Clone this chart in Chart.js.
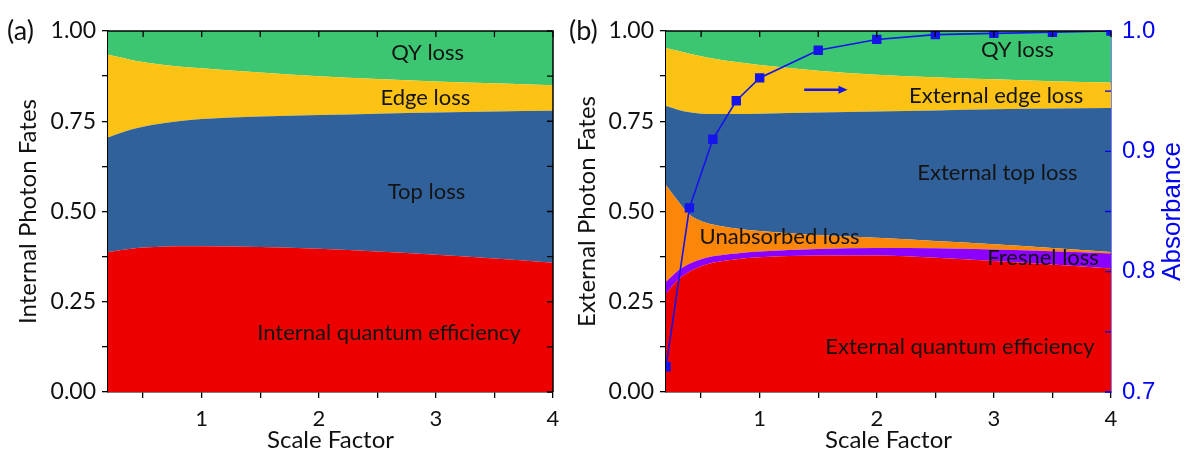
<!DOCTYPE html>
<html>
<head>
<meta charset="utf-8">
<script src="https://cdn.jsdelivr.net/npm/chart.js@4.4.1/dist/chart.umd.min.js"></script>
<style>
  html, body { margin: 0; padding: 0; background: #fff; }
  #wrap { position: relative; width: 1184px; height: 455px; overflow: hidden; }
  canvas { position: absolute; top: 0; }
</style>
</head>
<body>
<div id="wrap">
  <canvas id="chartA" width="580" height="455" style="left:0"></canvas>
  <canvas id="chartB" width="629" height="455" style="left:555px"></canvas>
</div>
<script>
// scale factor samples used for the photon fate areas
const scaleFactor = [0.2, 0.3, 0.4, 0.5, 0.6, 0.8, 1.0, 1.5, 2.0, 2.5, 3.0, 3.5, 4.0];

// (a) internal photon fates
const internalQE   = [0.388, 0.393, 0.397, 0.400, 0.402, 0.404, 0.404, 0.402, 0.397, 0.389, 0.380, 0.370, 0.358];
const topLoss      = [0.317, 0.324, 0.330, 0.335, 0.339, 0.346, 0.352, 0.361, 0.370, 0.382, 0.394, 0.407, 0.421];
const edgeLoss     = [0.230, 0.210, 0.193, 0.179, 0.168, 0.152, 0.141, 0.122, 0.108, 0.096, 0.086, 0.078, 0.071];
const qyLossA      = [0.065, 0.073, 0.080, 0.086, 0.091, 0.098, 0.103, 0.115, 0.125, 0.133, 0.140, 0.145, 0.150];

// (b) external photon fates
const externalQE   = [0.272, 0.310, 0.333, 0.348, 0.358, 0.368, 0.373, 0.378, 0.378, 0.372, 0.363, 0.353, 0.342];
const fresnelLoss  = [0.033, 0.025, 0.022, 0.020, 0.018, 0.016, 0.016, 0.018, 0.021, 0.026, 0.032, 0.037, 0.042];
const unabsorbed   = [0.268, 0.195, 0.137, 0.106, 0.088, 0.069, 0.057, 0.039, 0.028, 0.020, 0.014, 0.009, 0.004];
const extTopLoss   = [0.219, 0.252, 0.283, 0.297, 0.306, 0.317, 0.325, 0.339, 0.350, 0.362, 0.374, 0.386, 0.399];
const extEdgeLoss  = [0.161, 0.163, 0.162, 0.159, 0.154, 0.144, 0.135, 0.116, 0.102, 0.092, 0.083, 0.076, 0.070];
const qyLossB      = [0.047, 0.055, 0.063, 0.070, 0.076, 0.086, 0.094, 0.110, 0.121, 0.128, 0.134, 0.139, 0.143];

// (b) absorbance, right axis
const absScale     = [0.2, 0.4, 0.6, 0.8, 1.0, 1.5, 2.0, 2.5, 3.0, 3.5, 4.0];
const absorbance   = [0.721, 0.853, 0.910, 0.942, 0.961, 0.984, 0.993, 0.997, 0.998, 0.999, 1.000];

// ticks
const xTicks     = [0.5, 1, 1.5, 2, 2.5, 3, 3.5, 4];
const xLabels    = ['', '1', '', '2', '', '3', '', '4'];
const fateTicks  = [0, 0.125, 0.25, 0.375, 0.5, 0.625, 0.75, 0.875, 1];
const fateLabels = ['0.00', '', '0.25', '', '0.50', '', '0.75', '', '1.00'];
const absTicks   = [0.7, 0.75, 0.8, 0.85, 0.9, 0.95, 1.0];
const absLabels  = ['0.7', '', '0.8', '', '0.9', '', '1.0'];

const C = {
  green: 'rgb(61,198,113)', yellow: 'rgb(253,195,20)', blue: 'rgb(49,97,154)',
  red: 'rgb(236,0,0)', orange: 'rgb(252,134,8)', purple: 'rgb(140,0,255)',
  line: 'rgb(20,20,235)', axisBlue: 'rgb(0,0,240)'
};
const FONT = 'Lato, "Open Sans", sans-serif';
const tickFont = { family: FONT, size: 23 };
const titleFont = { family: FONT, size: 24 };

function area(label, values, color, fill) {
  return {
    label, data: scaleFactor.map((x, i) => ({ x, y: values[i] })),
    backgroundColor: color, borderColor: color, borderWidth: 0,
    pointRadius: 0, fill, cubicInterpolationMode: 'monotone', order: 2
  };
}

function xScale() {
  return {
    type: 'linear', min: 0.2, max: 4,
    afterBuildTicks: s => { s.ticks = xTicks.map(value => ({ value })); },
    ticks: { autoSkip: false, maxRotation: 0, color: '#111', font: { family: FONT, size: 22 }, padding: 8,
             callback: (v, i) => xLabels[i] },
    grid: { drawOnChartArea: false, tickLength: 6, color: '#000', lineWidth: 1.3 },
    border: { color: '#000', width: 1.5 },
    title: { display: true, text: 'Scale Factor', color: '#111', font: titleFont, padding: { top: 0, bottom: 0 } },
    afterFit: s => { s.height = 63; }
  };
}

function yScale(title, width, titlePad) {
  return {
    stacked: true, min: 0, max: 1,
    afterBuildTicks: s => { s.ticks = fateTicks.map(value => ({ value })); },
    ticks: { autoSkip: false, color: '#111', font: tickFont, padding: 6,
             callback: (v, i) => fateLabels[i] },
    grid: { drawOnChartArea: false, tickLength: 6, color: '#000', lineWidth: 1.3 },
    border: { color: '#000', width: 1.5 },
    title: { display: true, text: title, color: '#111', font: titleFont, padding: { top: titlePad, bottom: 0 } },
    afterFit: s => { s.width = width; }
  };
}

function decor(cfg) {
  return {
    id: 'decor' + cfg.letter,
    afterDatasetsDraw(chart) {
      const { ctx, scales: { x, y } } = chart;
      ctx.save();
      ctx.fillStyle = '#141414';
      ctx.font = '22px ' + FONT;
      ctx.textAlign = 'center';
      ctx.textBaseline = 'middle';
      cfg.labels.forEach(l => ctx.fillText(l.text, x.getPixelForValue(l.x), y.getPixelForValue(l.y)));
      if (cfg.arrow) {
        const a = cfg.arrow;
        const x1 = x.getPixelForValue(a.from), x2 = x.getPixelForValue(a.to), py = y.getPixelForValue(a.y);
        ctx.strokeStyle = C.line; ctx.fillStyle = C.line; ctx.lineWidth = 2.5;
        ctx.beginPath(); ctx.moveTo(x1, py); ctx.lineTo(x2 - 6, py); ctx.stroke();
        ctx.beginPath(); ctx.moveTo(x2, py); ctx.lineTo(x2 - 9, py - 4); ctx.lineTo(x2 - 9, py + 4); ctx.closePath(); ctx.fill();
      }
      ctx.restore();
    },
    afterDraw(chart) {
      const { ctx, chartArea: a, scales: { x, y, y2 } } = chart;
      ctx.save();
      ctx.strokeStyle = '#000';
      ctx.lineWidth = 1.3;
      ctx.beginPath();
      xTicks.forEach(v => { const px = x.getPixelForValue(v); ctx.moveTo(px, a.top); ctx.lineTo(px, a.top + 6); });
      if (!y2) fateTicks.forEach(v => { const py = y.getPixelForValue(v); ctx.moveTo(a.right, py); ctx.lineTo(a.right - 6, py); });
      ctx.stroke();
      ctx.lineWidth = 1.5;
      ctx.beginPath();
      ctx.moveTo(a.left, a.top); ctx.lineTo(a.right, a.top);
      if (!y2) ctx.lineTo(a.right, a.bottom);
      ctx.stroke();
      if (y2) {
        ctx.strokeStyle = C.axisBlue;
        ctx.lineWidth = 1.3;
        ctx.beginPath();
        absTicks.forEach(v => { const py = y2.getPixelForValue(v); ctx.moveTo(a.right, py); ctx.lineTo(a.right - 6, py); });
        ctx.stroke();
        ctx.fillStyle = C.axisBlue;
        ctx.font = '26px "Liberation Sans", Arial, sans-serif';
        ctx.textAlign = 'center'; ctx.textBaseline = 'middle';
        ctx.translate(y2.right - 11, (a.top + a.bottom) / 2);
        ctx.rotate(-Math.PI / 2);
        ctx.fillText('Absorbance', 0, 0);
        ctx.setTransform(1, 0, 0, 1, 0, 0);
      }
      ctx.fillStyle = '#111';
      ctx.font = '27px ' + FONT;
      ctx.textAlign = 'left'; ctx.textBaseline = 'middle';
      ctx.fillText(cfg.letter, cfg.letterX, a.top);
      ctx.restore();
    }
  };
}

const common = {
  responsive: false, animation: false,
  plugins: { legend: { display: false }, tooltip: { enabled: false } },
  elements: { line: { tension: 0.4 } }
};

new Chart(document.getElementById('chartA'), {
  type: 'line',
  data: { datasets: [
    area('Internal quantum efficiency', internalQE, C.red, 'origin'),
    area('Top loss', topLoss, C.blue, '-1'),
    area('Edge loss', edgeLoss, C.yellow, '-1'),
    area('QY loss', qyLossA, C.green, '-1')
  ] },
  options: Object.assign({}, common, {
    layout: { padding: { top: 31, right: 27, left: 0, bottom: 0 } },
    scales: { x: xScale(), y: yScale('Internal Photon Fates', 108, 14) }
  }),
  plugins: [decor({
    letter: '(a)', letterX: 7,
    labels: [
      { text: 'QY loss', x: 2.93, y: 0.939 },
      { text: 'Edge loss', x: 2.91, y: 0.814 },
      { text: 'Top loss', x: 2.92, y: 0.554 },
      { text: 'Internal quantum efficiency', x: 2.6, y: 0.163 }
    ]
  })]
});

new Chart(document.getElementById('chartB'), {
  type: 'line',
  data: { datasets: [
    {
      label: 'Absorbance', yAxisID: 'y2', order: 0, clip: 0,
      data: absScale.map((x, i) => ({ x, y: absorbance[i] })),
      borderColor: C.line, backgroundColor: C.line, borderWidth: 1.6, tension: 0,
      pointStyle: 'rect', pointRadius: 5.5, fill: false
    },
    area('External quantum efficiency', externalQE, C.red, 'origin'),
    area('Fresnel loss', fresnelLoss, C.purple, '-1'),
    area('Unabsorbed loss', unabsorbed, C.orange, '-1'),
    area('External top loss', extTopLoss, C.blue, '-1'),
    area('External edge loss', extEdgeLoss, C.yellow, '-1'),
    area('QY loss', qyLossB, C.green, '-1')
  ] },
  options: Object.assign({}, common, {
    layout: { padding: { top: 31, right: 0, left: 0, bottom: 0 } },
    scales: {
      x: xScale(),
      y: yScale('External Photon Fates', 111, 18),
      y2: {
        position: 'right', min: 0.7, max: 1.0, stacked: false,
        afterBuildTicks: s => { s.ticks = absTicks.map(value => ({ value })); },
        ticks: { autoSkip: false, color: C.axisBlue, padding: 11,
                 font: { family: '"Liberation Sans", Arial, sans-serif', size: 24 },
                 callback: (v, i) => absLabels[i] },
        grid: { display: true, drawOnChartArea: false, drawTicks: false },
        border: { color: C.axisBlue, width: 1.5 },
        afterFit: s => { s.width = 73; }
      }
    }
  }),
  plugins: [decor({
    letter: '(b)', letterX: 569 - 555,
    labels: [
      { text: 'QY loss', x: 3.2, y: 0.947 },
      { text: 'External edge loss', x: 3.02, y: 0.82 },
      { text: 'External top loss', x: 3.03, y: 0.607 },
      { text: 'Unabsorbed loss', x: 1.17, y: 0.43 },
      { text: 'Fresnel loss', x: 3.42, y: 0.371 },
      { text: 'External quantum efficiency', x: 2.71, y: 0.125 }
    ],
    arrow: { from: 1.38, to: 1.75, y: 0.837 }
  })]
});
</script>
</body>
</html>
